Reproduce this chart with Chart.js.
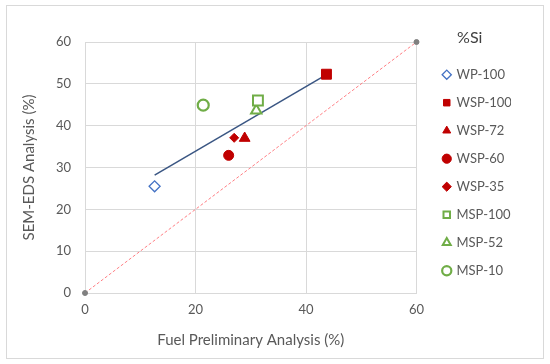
<!DOCTYPE html>
<html>
<head>
<meta charset="utf-8">
<script src="https://cdn.jsdelivr.net/npm/chart.js@4/dist/chart.umd.min.js"></script>
<style>
html,body{margin:0;padding:0;background:#fff;}
#wrap{position:relative;width:550px;height:364px;}
</style>
</head>
<body>
<div id="wrap"><canvas id="c" width="550" height="364"></canvas></div>
<script>
// ---- data ----
const seriesLabels = ['WP-100','WSP-100','WSP-72','WSP-60','WSP-35','MSP-100','MSP-52','MSP-10'];
const fuelAnalysis = [12.6, 43.7, 28.9, 26.0, 27.0, 31.3, 31.0, 21.4];   // x
const semAnalysis  = [25.5, 52.3, 37.0, 32.9, 37.1, 46.0, 43.6, 44.9];   // y
const trendX = [12.6, 43.7];
const trendY = [28.2, 52.2];
const parityX = [0, 60];
const parityY = [0, 60];
const xTicks = [0, 20, 40, 60];
const yTicks = [0, 10, 20, 30, 40, 50, 60];

// ---- styles ----
const RED = '#C00000', GREEN = '#70AD47', BLUE = '#4472C4';
const markerStyles = [
  {pointStyle:'rectRot', radius:5.5, bg:'#ffffff', border:BLUE, bw:1.3},
  {pointStyle:'rect', radius:7, bg:RED, border:RED, bw:1},
  {pointStyle:'triangle', radius:6.2, bg:RED, border:RED, bw:1},
  {pointStyle:'circle', radius:5, bg:RED, border:RED, bw:1},
  {pointStyle:'rectRot', radius:4.5, bg:RED, border:RED, bw:1},
  {pointStyle:'rect', radius:7, bg:'#ffffff', border:GREEN, bw:2},
  {pointStyle:'triangle', radius:6, bg:'#ffffff', border:GREEN, bw:2},
  {pointStyle:'circle', radius:5.5, bg:'#ffffff', border:GREEN, bw:2.2}
];

const datasets = seriesLabels.map((lab, i) => ({
  label: lab,
  data: [{x: fuelAnalysis[i], y: semAnalysis[i]}],
  pointStyle: markerStyles[i].pointStyle,
  pointRadius: markerStyles[i].radius,
  pointBackgroundColor: markerStyles[i].bg,
  pointBorderColor: markerStyles[i].border,
  pointBorderWidth: markerStyles[i].bw,
  backgroundColor: markerStyles[i].bg,
  borderColor: markerStyles[i].border,
  borderWidth: markerStyles[i].bw,
  order: 1
}));
datasets.push({
  label: 'Trend',
  data: trendX.map((x, i) => ({x, y: trendY[i]})),
  showLine: true, borderColor: '#3A5683', borderWidth: 1.5,
  pointRadius: 0, order: 3
});
datasets.push({
  label: 'Parity',
  data: parityX.map((x, i) => ({x, y: parityY[i]})),
  showLine: true, borderColor: '#FF7F85', borderWidth: 1, borderDash: [3, 2],
  pointRadius: 2.5, pointBackgroundColor: '#808080', pointBorderColor: '#808080',
  clip: false, order: 4
});

const frame = {
  id: 'frame',
  beforeDraw(chart) {
    const ctx = chart.ctx;
    ctx.save();
    ctx.fillStyle = '#fff';
    ctx.fillRect(0, 0, chart.width, chart.height);
    ctx.strokeStyle = '#d9d9d9';
    ctx.lineWidth = 1;
    ctx.strokeRect(6.5, 5.5, 537, 353);
    ctx.restore();
  }
};

const FONT = 'Lato, "Open Sans", sans-serif';
const TXT = '#595959';

new Chart(document.getElementById('c'), {
  type: 'scatter',
  data: { datasets },
  options: {
    responsive: false,
    animation: false,
    devicePixelRatio: 1,
    layout: { padding: { left: 16, top: 30, right: 39, bottom: 12 } },
    plugins: {
      tooltip: { enabled: false },
      legend: {
        display: true,
        position: 'right',
        align: 'start',
        title: { display: true, text: '%Si', color: '#404040',
                 font: { family: FONT, size: 16 }, padding: { top: 0, bottom: 4 } },
        labels: {
          usePointStyle: true,
          boxWidth: 6.5, boxHeight: 6.5,
          padding: 15,
          color: TXT,
          font: { family: FONT, size: 13 },
          filter: (item) => item.text !== 'Trend' && item.text !== 'Parity'
        }
      }
    },
    scales: {
      x: {
        type: 'linear', min: 0, max: 60,
        afterBuildTicks: (s) => { s.ticks = xTicks.map(v => ({value: v})); },
        afterFit: (s) => { s.height = 59; },
        ticks: { color: TXT, font: { family: FONT, size: 13 }, padding: 9 },
        grid: { color: '#d9d9d9', drawTicks: false },
        border: { color: '#d9d9d9' },
        title: { display: true, text: 'Fuel Preliminary Analysis (%)', color: TXT,
                 font: { family: FONT, size: 15 }, padding: { top: 4, bottom: 3 } }
      },
      xTopSpacer: {
        type: 'linear', position: 'top', display: true,
        afterFit: (s) => { s.height = 12; },
        ticks: { display: false }, grid: { display: false }, border: { display: false }
      },
      y: {
        type: 'linear', min: 0, max: 60,
        afterBuildTicks: (s) => { s.ticks = yTicks.map(v => ({value: v})); },
        afterFit: (s) => { s.width = 69; },
        ticks: { color: TXT, font: { family: FONT, size: 13 }, padding: 14 },
        grid: { color: '#d9d9d9', drawTicks: false },
        border: { color: '#d9d9d9' },
        title: { display: true, text: 'SEM-EDS Analysis (%)', color: TXT,
                 font: { family: FONT, size: 15 }, padding: { top: 4, bottom: 4 } }
      },
      yRightSpacer: {
        type: 'linear', position: 'right', display: true,
        afterFit: (s) => { s.width = 12; },
        ticks: { display: false }, grid: { display: false }, border: { display: false }
      }
    }
  },
  plugins: [frame]
});
</script>
</body>
</html>
